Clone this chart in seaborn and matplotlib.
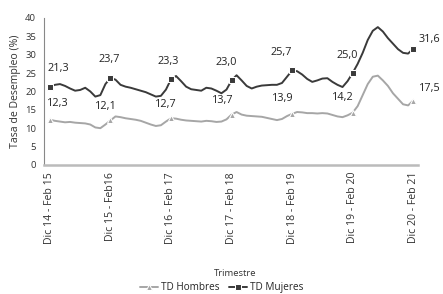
import numpy as np
import pandas as pd
import matplotlib
matplotlib.use("Agg")
import matplotlib.pyplot as plt
import seaborn as sns

# ---- data ----
tick_labels = ["Dic 14 - Feb 15", "Dic 15 - Feb16", "Dic 16 - Feb 17", "Dic 17 - Feb 18",
               "Dic 18 - Feb 19", "Dic 19 - Feb 20", "Dic 20 - Feb 21"]
mujeres = [21.3, 21.8, 22.0, 21.5, 20.8, 20.2, 20.4, 21.0, 20.0, 18.6, 19.0, 22.0,
           23.7, 23.2, 21.8, 21.3, 21.0, 20.6, 20.2, 19.8, 19.2, 18.6, 18.8, 20.5,
           23.3, 24.2, 22.8, 21.3, 20.6, 20.4, 20.2, 21.0, 20.8, 20.2, 19.5, 20.5,
           23.0, 24.4, 23.0, 21.5, 20.8, 21.3, 21.6, 21.7, 21.8, 21.8, 22.3, 24.0,
           25.7, 25.5, 24.6, 23.4, 22.6, 23.0, 23.5, 23.6, 22.6, 21.8, 21.2, 22.8,
           25.0, 27.5, 30.5, 34.0, 36.5, 37.5, 36.3, 34.5, 33.0, 31.5, 30.5, 30.3,
           31.6]
hombres = [12.3, 12.0, 11.8, 11.6, 11.7, 11.5, 11.4, 11.3, 11.0, 10.2, 10.0, 11.0,
           12.1, 13.2, 13.0, 12.7, 12.5, 12.3, 12.0, 11.5, 11.0, 10.6, 10.8, 11.8,
           12.7, 12.6, 12.3, 12.1, 12.0, 11.9, 11.8, 12.0, 11.9, 11.7, 11.8, 12.4,
           13.7, 14.4, 13.7, 13.4, 13.3, 13.2, 13.1, 12.8, 12.5, 12.2, 12.5, 13.3,
           13.9, 14.4, 14.3, 14.1, 14.1, 14.0, 14.1, 14.0, 13.6, 13.2, 13.0, 13.5,
           14.2, 16.0, 19.0, 22.0, 24.0, 24.3, 23.0, 21.5, 19.5, 18.0, 16.5, 16.2,
           17.5]
series_names = ["TD Hombres", "TD Mujeres"]

n = len(mujeres)
idx = np.arange(n)
df = pd.concat([
    pd.DataFrame({"t": idx, "v": hombres, "serie": series_names[0]}),
    pd.DataFrame({"t": idx, "v": mujeres, "serie": series_names[1]}),
])

sns.set_style("white")
plt.rcParams["font.family"] = ["Open Sans", "DejaVu Sans"]

fig = plt.figure(figsize=(4.43, 2.94), dpi=100)
ax = fig.add_axes([0.099, 0.439, 0.845, 0.50])

sns.lineplot(data=df, x="t", y="v", hue="serie", style="serie",
             palette={"TD Hombres": "#a6a6a6", "TD Mujeres": "#3a3a3a"},
             markers={"TD Hombres": "^", "TD Mujeres": "s"}, dashes=False,
             markevery=12, markersize=4.5, linewidth=1.4, ax=ax, legend=True)

# annotations at labeled points
lab_idx = list(range(0, n, 12))
off_m = [(6, 9), (-1, 9), (-2, 9), (-4, 9), (-8, 9), (-4, 9), (12, 3)]
off_h = [(6, 8), (-3, 6), (-4, 6), (-6, 6), (-7, 7), (-7, 7), (12, 5)]
for k, i in enumerate(lab_idx):
    ax.annotate(f"{mujeres[i]:.1f}".replace(".", ","), (i, mujeres[i]),
                xytext=off_m[k], textcoords="offset points", ha="center",
                va="bottom", fontsize=7.8, color="#222222")
    ax.annotate(f"{hombres[i]:.1f}".replace(".", ","), (i, hombres[i]),
                xytext=off_h[k], textcoords="offset points", ha="center",
                va="bottom", fontsize=7.8, color="#222222")

ax.set_xlim(-1.2, n)
ax.set_ylim(0, 40)
ax.set_yticks(range(0, 41, 5))
ax.set_xticks(lab_idx)
ax.set_xticklabels(tick_labels, rotation=90, fontsize=7.6, color="#333333")
ax.tick_params(axis="y", labelsize=6.8, colors="#333333", length=2, width=0.6)
ax.tick_params(axis="x", length=0, pad=5)
ax.set_ylabel("Tasa de Desempleo (%)", fontsize=7.6, color="#333333", labelpad=3)
ax.set_xlabel("Trimestre", fontsize=6.8, color="#333333")
ax.xaxis.set_label_coords(0.51, -0.71)

for s in ["top", "right"]:
    ax.spines[s].set_visible(False)
ax.spines["left"].set_color("#888888")
ax.spines["left"].set_linewidth(0.8)
ax.spines["bottom"].set_color("#bbbbbb")
ax.spines["bottom"].set_linewidth(1.8)
ax.grid(False)

handles, labels = ax.get_legend_handles_labels()
ax.get_legend().remove()
fig.legend(handles, labels, loc="center", bbox_to_anchor=(0.5, 0.022), ncol=2,
           frameon=False, fontsize=7.2, handlelength=1.8, columnspacing=1.0,
           handletextpad=0.3, borderpad=0.1)

fig.savefig("out.png", dpi=100, facecolor="white")
